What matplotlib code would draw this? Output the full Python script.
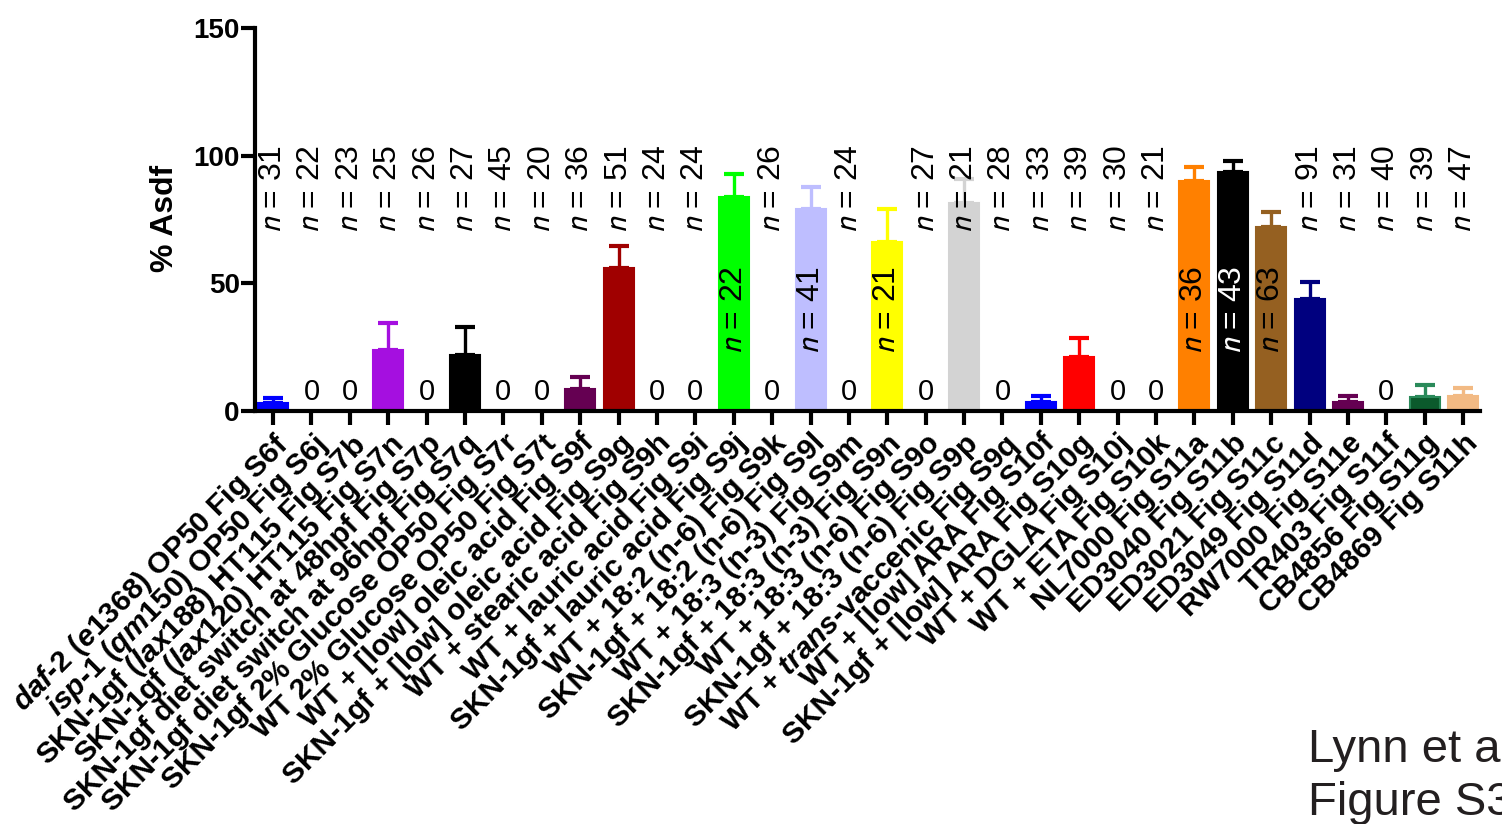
import numpy as np
import matplotlib
matplotlib.use('Agg')
import matplotlib.pyplot as plt

plt.rcParams['font.family'] = 'Liberation Sans'
plt.rcParams['mathtext.fontset'] = 'custom'
plt.rcParams['mathtext.rm'] = 'Liberation Sans:bold'
plt.rcParams['mathtext.it'] = 'Liberation Sans:italic:bold'
plt.rcParams['mathtext.bf'] = 'Liberation Sans:bold'

# categories (italic gene/allele names via mathtext)
labels = [
    r"$\mathit{daf}$-$\mathit{2}$ ($\mathit{e1368}$) OP50 Fig S6f",
    r"$\mathit{isp}$-$\mathit{1}$ ($\mathit{qm150}$) OP50 Fig S6j",
    r"SKN-1gf ($\mathit{lax188}$) HT115 Fig S7b",
    r"SKN-1gf ($\mathit{lax120}$) HT115 Fig S7n",
    "SKN-1gf diet switch at 48hpf Fig S7p",
    "SKN-1gf diet switch at 96hpf Fig S7q",
    "SKN-1gf 2% Glucose OP50 Fig S7r",
    "WT 2% Glucose OP50 Fig S7t",
    "WT + [low] oleic acid Fig S9f",
    "SKN-1gf + [low] oleic acid Fig S9g",
    "WT + stearic acid Fig S9h",
    "WT + lauric acid Fig S9i",
    "SKN-1gf + lauric acid Fig S9j",
    "WT + 18:2 (n-6) Fig S9k",
    "SKN-1gf + 18:2 (n-6) Fig S9l",
    "WT + 18:3 (n-3) Fig S9m",
    "SKN-1gf + 18:3 (n-3) Fig S9n",
    "WT + 18:3 (n-6) Fig S9o",
    "SKN-1gf + 18:3 (n-6) Fig S9p",
    r"WT + $\mathit{trans}$-vaccenic Fig S9q",
    "WT + [low] ARA Fig S10f",
    "SKN-1gf + [low] ARA Fig S10g",
    "WT + DGLA Fig S10j",
    "WT + ETA Fig S10k",
    "NL7000 Fig S11a",
    "ED3040 Fig S11b",
    "ED3021 Fig S11c",
    "ED3049 Fig S11d",
    "RW7000 Fig S11e",
    "TR403 Fig S11f",
    "CB4856 Fig S11g",
    "CB4869 Fig S11h",
]
n_counts = [31, 22, 23, 25, 26, 27, 45, 20, 36, 51, 24, 24, 22, 26, 41, 24,
            21, 27, 21, 28, 33, 39, 30, 21, 36, 43, 63, 91, 31, 40, 39, 47]
pct_asdf = [3, 0, 0, 24, 0, 22, 0, 0, 8.5, 56, 0, 0, 84, 0, 79, 0,
            66, 0, 81.5, 0, 3.5, 21, 0, 0, 90, 93.5, 72, 44, 3.5, 0, 5.5, 6]
sem = [2, 0, 0, 10.5, 0, 11, 0, 0, 5, 8.6, 0, 0, 9, 0, 8.7, 0,
       13, 0, 9.5, 0, 2.3, 7.5, 0, 0, 5.6, 4.5, 6, 6.5, 2.3, 0, 4.5, 3]
bar_colors = ['#0000FF', 'white', 'white', '#A50FE0', 'white', '#000000', 'white', 'white',
              '#650052', '#A00000', 'white', 'white', '#00FF00', 'white', '#BEBEFF', 'white',
              '#FFFF00', 'white', '#D3D3D3', 'white', '#0000FF', '#FF0000', 'white', 'white',
              '#FF8000', '#000000', '#956021', '#00007F', '#650052', 'white', '#0B5A2C', '#F2BA84']
edge_colors = list(bar_colors)
edge_colors[30] = '#2A8A5A'
n_inside = [12, 14, 16, 24, 25, 26]   # n label written inside the bar

fig = plt.figure(figsize=(15.02, 8.24), dpi=100)
ax = fig.add_axes([0.1698, 0.5012, 0.8156, 0.4648])

x = np.arange(len(labels))
ax.bar(x, pct_asdf, width=0.78, color=bar_colors, edgecolor=edge_colors,
       linewidth=1.5, zorder=2)
for i in x:
    if pct_asdf[i] > 0:
        ax.errorbar(i, pct_asdf[i], yerr=[[0], [sem[i]]], color=edge_colors[i],
                    lw=2.4, capsize=7, capthick=3, zorder=1)

for i in x:
    txt = r"$n$ = %d" % n_counts[i]
    if i in n_inside:
        c = 'white' if bar_colors[i] == '#000000' else 'black'
        ax.text(i, 39.5, txt, rotation=90, ha='center', va='center', fontsize=23,
                color=c, math_fontfamily='stixsans', zorder=4)
    else:
        ax.text(i, 87, txt, rotation=90, ha='center', va='center', fontsize=23,
                color='black', math_fontfamily='stixsans', zorder=4)
    if pct_asdf[i] == 0:
        ax.text(i, 2, "0", ha='center', va='bottom', fontsize=21, zorder=4)

ax.set_xlim(-0.47, 31.44)
ax.set_ylim(0, 150)
ax.set_yticks([0, 50, 100, 150])
ax.set_yticklabels(['0', '50', '100', '150'], fontsize=20, fontweight='bold')
ax.set_xticks(x)
ax.set_xticklabels(labels, rotation=45, ha='right', va='top', rotation_mode='anchor',
                   fontsize=21.5, fontweight='bold')
ax.tick_params(axis='both', direction='out', length=10, width=3)
ax.tick_params(axis='y', pad=1)
ax.tick_params(axis='x', pad=3)
for s in ['top', 'right']:
    ax.spines[s].set_visible(False)
for s in ['left', 'bottom']:
    ax.spines[s].set_linewidth(3)
ax.set_ylabel('% Asdf', fontsize=23, fontweight='bold')
ax.yaxis.set_label_coords(-0.061, 0.504)

# page annotation, cut off at the right edge as in the source figure
fig.text(1308 / 1502, 1 - 762 / 824, "Lynn et al.", fontsize=34, color='#231F20', va='baseline')
fig.text(1308 / 1502, 1 - 815 / 824, "Figure S3", fontsize=34, color='#231F20', va='baseline')

fig.savefig('out.png', dpi=100)
